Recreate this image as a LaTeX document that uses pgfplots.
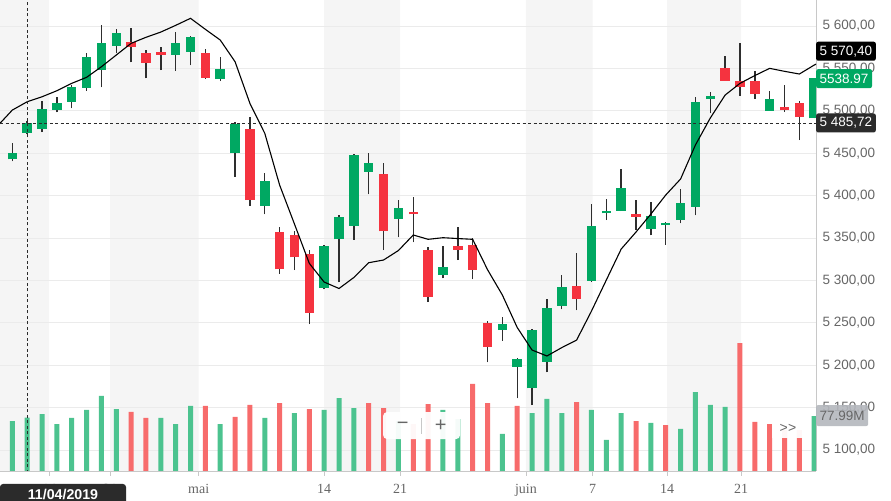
\documentclass[border=0pt]{standalone}
\usepackage{pgfplots}
\usepackage{pgfplotstable}
\pgfplotsset{compat=1.18}
\usepackage{fontspec}
\setmainfont{Liberation Sans}
\newfontfamily\serif{Liberation Serif}

\definecolor{cgreen}{HTML}{00A862}
\definecolor{cred}{HTML}{F5333F}
\definecolor{vgreen}{HTML}{4CC38F}
\definecolor{vred}{HTML}{F76B6B}
\definecolor{band}{HTML}{F5F5F5}
\definecolor{gridc}{HTML}{EBEBEB}
\definecolor{axisc}{HTML}{C8C8C8}
\definecolor{tickc}{HTML}{666666}
\definecolor{wick}{HTML}{2E2E2E}
\definecolor{darkbox}{HTML}{2B2B2B}
\definecolor{volbox}{HTML}{B4B7BD}

% daily candles, i = trading day index
\pgfplotstableread{
i o h l c
0 5442.8 5461.7 5440.4 5449.9
1 5474.2 5488.0 5472.6 5485.7
2 5478.9 5511.6 5475.0 5502.1
3 5501.3 5516.6 5498.2 5509.2
4 5510.7 5530.4 5503.0 5528.1
5 5527.2 5567.8 5523.4 5563.4
6 5548.5 5601.2 5527.7 5580.0
7 5576.8 5596.1 5567.8 5592.1
11 5566.2 5592.6 5547.3 5580.0
12 5569.7 5588.2 5553.7 5587.0
14 5537.5 5563.1 5535.1 5549.3
15 5450.2 5487.1 5422.3 5484.4
17 5388.1 5426.3 5378.0 5417.2
21 5291.4 5341.8 5289.5 5340.6
22 5348.5 5377.1 5297.8 5374.4
23 5364.5 5449.1 5347.7 5447.9
24 5428.2 5449.9 5401.5 5438.4
26 5372.8 5394.8 5350.8 5385.4
29 5306.4 5340.6 5302.5 5316.2
33 5241.5 5256.5 5228.9 5248.6
34 5198.3 5208.5 5161.0 5207.7
35 5172.8 5242.7 5153.1 5241.5
36 5204.1 5277.7 5191.7 5267.5
37 5270.2 5306.4 5266.0 5292.6
39 5299.7 5390.1 5298.7 5364.2
40 5379.1 5396.4 5371.2 5381.8
41 5382.2 5431.0 5381.8 5408.6
43 5361.0 5392.5 5353.2 5376.0
44 5365.0 5368.9 5341.8 5368.1
45 5371.2 5408.1 5367.3 5391.3
46 5386.9 5515.9 5376.8 5510.4
47 5513.9 5521.8 5497.1 5517.5
51 5500.1 5523.0 5500.1 5513.9
54 5491.2 5539.0 5491.2 5538.97
}\upcandles

\pgfplotstableread{
i o h l c
8 5581.1 5597.3 5557.2 5575.6
9 5568.5 5571.7 5538.3 5556.7
10 5569.3 5575.6 5548.1 5566.2
13 5568.5 5572.5 5537.9 5539.0
16 5478.5 5493.0 5388.1 5394.8
18 5357.4 5363.3 5307.6 5313.1
19 5353.6 5358.3 5312.3 5327.3
20 5331.1 5335.9 5248.6 5261.9
25 5425.5 5438.2 5335.9 5357.9
27 5381.0 5398.7 5344.9 5378.0
28 5335.9 5339.4 5274.5 5280.8
30 5340.6 5363.3 5324.1 5336.4
31 5341.8 5350.4 5301.3 5312.3
32 5250.1 5252.1 5203.4 5221.8
38 5293.4 5332.0 5264.8 5278.4
42 5378.3 5394.8 5359.4 5375.1
48 5550.1 5564.6 5535.5 5535.5
49 5535.1 5580.3 5517.8 5528.4
50 5535.1 5546.9 5514.3 5519.8
52 5504.5 5530.1 5498.6 5500.6
53 5508.8 5511.6 5465.6 5493.0
}\downcandles

% volume in millions
\pgfplotstableread{
i v
0 70.9
1 75.6
2 80.8
3 66.6
4 75.2
5 86.5
6 106.4
7 87.9
10 75.2
11 66.6
12 92.2
14 66.6
17 75.2
19 82.2
21 86.5
22 103.5
23 89.3
26 70.9
29 86.5
30 73.7
33 52.5
35 82.2
36 102.1
37 82.2
39 86.5
40 44.0
41 82.2
43 68.1
45 59.6
46 112.0
47 93.6
48 90.8
54 77.99
}\volup

\pgfplotstableread{
i v
8 83.7
9 75.2
13 92.2
15 76.6
16 93.6
18 96.4
20 87.9
24 96.4
25 89.3
27 66.6
28 95.0
31 123.4
32 96.4
34 92.2
38 97.8
42 70.9
44 65.2
49 181.5
50 69.5
51 66.6
52 58.0
53 58.0
}\voldown

% moving average
\pgfplotstableread{
i m
-1 5482.1
0 5500.9
1 5510.7
2 5516.6
3 5523.7
4 5532.4
5 5539.5
6 5552.0
7 5565.8
8 5579.6
9 5586.7
10 5592.9
11 5600.8
12 5609.1
13 5596.1
14 5583.5
15 5557.9
16 5508.8
17 5473.5
18 5412.5
19 5366.5
20 5320.1
21 5298.1
22 5290.5
23 5303.5
24 5320.9
25 5324.1
26 5335.3
27 5353.6
28 5348.5
29 5350.4
30 5349.4
31 5348.5
32 5312.7
33 5282.8
34 5244.5
35 5217.9
36 5210.9
37 5220.8
38 5229.7
39 5263.9
40 5300.5
41 5337.0
42 5357.1
43 5378.3
44 5400.7
45 5419.6
46 5459.7
47 5491.5
48 5518.6
49 5532.4
50 5541.6
51 5550.1
52 5546.6
53 5543.4
54 5554.0
55 5562.0
}\ma

\pgfplotsset{
  base/.style={at={(0,30bp)}, anchor=south west, width=816bp, height=471bp,
    scale only axis, xmin=-0.83, xmax=54.12},
}
\tikzset{
  lab/.style={font=\fontsize{13.5bp}{16bp}\selectfont, anchor=west, inner xsep=3.5bp,
    inner ysep=1bp, minimum height=19bp, rounded corners=2bp},
}

\begin{document}
\begin{tikzpicture}
\path[use as bounding box] (0,0) rectangle (891bp,501bp);

% background bands, grid, axis lines and ticks
\begin{axis}[base, ymin=5075.3, ymax=5630.7,
  axis on top,
  axis x line*=bottom, axis y line*=right,
  axis line style={-, draw=axisc, line width=0.8bp},
  ytick={5100,5150,...,5600},
  yticklabels={{5 100,00},{5 150,00},{5 200,00},{5 250,00},{5 300,00},{5 350,00},{5 400,00},{5 450,00},{5 500,00},{5 550,00},{5 600,00}},
  yticklabel style={font=\fontsize{13.5bp}{16bp}\selectfont, text=tickc, anchor=west, xshift=-2bp},
  ytick style={draw=none},
  ymajorgrids, grid style={draw=gridc, line width=0.8bp},
  xtick={2.47,6.58,12.55,20.99,26.11,34.59,39.08,44.09,49.07},
  xticklabels={14,21,mai,14,21,juin,7,14,21},
  xticklabel style={font=\serif\fontsize{14bp}{16bp}\selectfont, text=tickc, yshift=-5bp},
  xtick style={draw=axisc, line width=0.8bp},
  tick align=outside, major tick length=5bp,
]
\addplot[fill=band, draw=none, const plot] coordinates {
  (-0.83,5700) (2.47,5000) (6.58,5700) (12.55,5000) (20.99,5700) (26.11,5000)
  (34.59,5700) (39.08,5000) (44.09,5700) (49.07,5000) (54.12,5000)} \closedcycle;
\end{axis}

% volume
\begin{axis}[base, ymin=0, ymax=667.9, hide axis, ybar, bar width=5bp, bar shift=0pt]
\addplot[fill=vgreen, draw=none] table[x=i, y=v] {\volup};
\addplot[fill=vred, draw=none] table[x=i, y=v] {\voldown};
\end{axis}

% price
\begin{axis}[base, ymin=5075.3, ymax=5630.7, hide axis, clip mode=individual]
% wicks
\addplot[draw=none, mark=none, error bars/.cd, y dir=plus, y explicit, error mark=none,
  error bar style={draw=wick, line width=1.4bp}]
  table[x=i, y=l, y error plus expr=\thisrow{h}-\thisrow{l}] {\upcandles};
\addplot[draw=none, mark=none, error bars/.cd, y dir=plus, y explicit, error mark=none,
  error bar style={draw=wick, line width=1.4bp}]
  table[x=i, y=l, y error plus expr=\thisrow{h}-\thisrow{l}] {\downcandles};
% bodies
\addplot[draw=none, mark=none, error bars/.cd, y dir=plus, y explicit, error mark=none,
  error bar style={draw=cgreen, line width=9.5bp}]
  table[x=i, y=o, y error plus expr=\thisrow{c}-\thisrow{o}] {\upcandles};
\addplot[draw=none, mark=none, error bars/.cd, y dir=plus, y explicit, error mark=none,
  error bar style={draw=cred, line width=9.5bp}]
  table[x=i, y=c, y error plus expr=\thisrow{o}-\thisrow{c}] {\downcandles};
% moving average
\addplot[black, line width=1.1bp, mark=none] table[x=i, y=m] {\ma};
% crosshair
\addplot[draw=darkbox, line width=0.8bp, dash pattern=on 3bp off 2.5bp] coordinates {(-0.83,5485.72) (54.12,5485.72)};
\addplot[draw=darkbox, line width=0.8bp, dash pattern=on 3bp off 2.5bp] coordinates {(1,5060) (1,5640)};

% price labels
\node[lab, fill=black, text=white] at (axis cs:54.12,5570.3) {5 570,40};
\node[lab, fill=cgreen, text=white] at (axis cs:54.12,5538.0) {5538.97};
\node[lab, fill=darkbox, text=white] at (axis cs:54.12,5485.72) {5 485,72};
\node[lab, fill=volbox, fill opacity=0.9, text opacity=1, text=tickc, minimum height=21bp] at (axis cs:54.12,5140.7) {77.99M};

% zoom buttons
\node[fill=white, fill opacity=0.95, rounded corners=4bp, minimum width=77bp, minimum height=27bp, inner sep=0pt] (zb) at (axis cs:27.56,5128.9) {};
\draw[draw=axisc, line width=0.6bp] ([yshift=-8bp]zb.center) -- ([yshift=8bp]zb.center);
\node[text=tickc, font=\fontsize{20bp}{22bp}\selectfont] at ([xshift=-19bp]zb.center) {−};
\node[text=tickc, font=\fontsize{20bp}{22bp}\selectfont] at ([xshift=19bp]zb.center) {+};
\node[fill=white, fill opacity=0.95, text opacity=1, minimum width=32bp, minimum height=20bp, inner sep=0pt, text=tickc, font=\fontsize{14bp}{16bp}\selectfont] at (axis cs:52.23,5126.0) {>\kern0.3bp>};
\end{axis}

% date label under the crosshair
\fill[darkbox, rounded corners=3bp] (0,-6bp) rectangle (126bp,17bp);
\node[text=white, font=\bfseries\fontsize{14.2bp}{16bp}\selectfont] at (63bp,7bp) {11/04/2019};
\end{tikzpicture}
\end{document}
